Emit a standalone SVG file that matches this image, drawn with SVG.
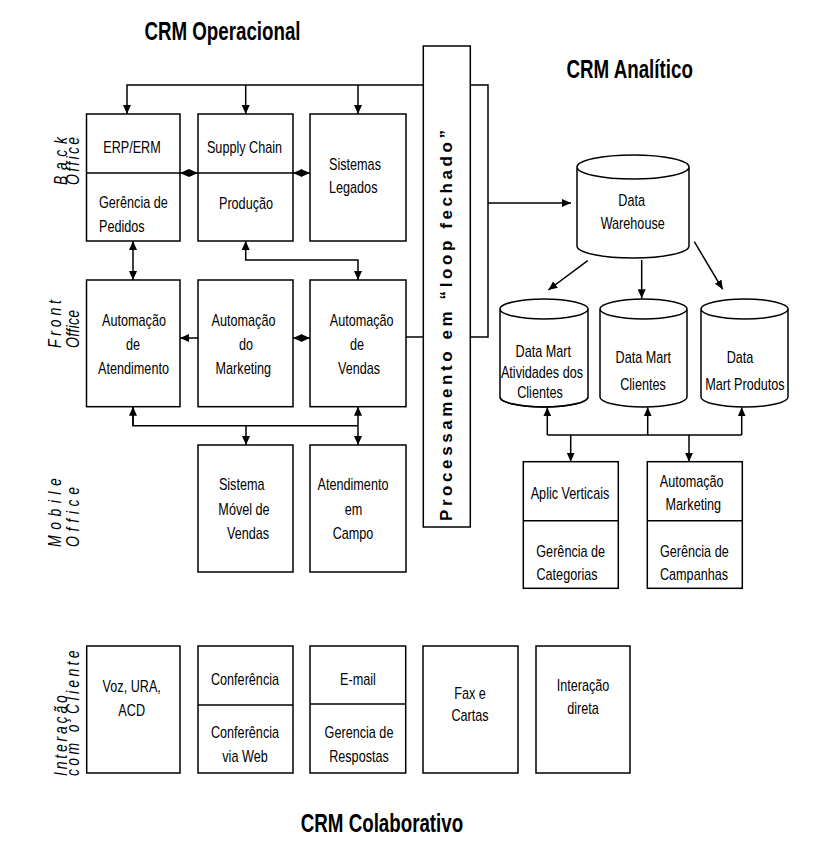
<svg xmlns="http://www.w3.org/2000/svg" width="818" height="849" viewBox="0 0 818 849">
<style>
.bg{fill:#fff}
.box{fill:#fff;stroke:#000;stroke-width:1.5}
.ln{fill:none;stroke:#000;stroke-width:1.5}
.t{font-family:"Liberation Sans",Arial,sans-serif;font-size:15.8px;fill:#000;text-anchor:middle;transform-box:fill-box;transform-origin:center;transform:scaleX(0.8)}
.tl{text-anchor:start;transform-origin:left center}
.title{font-family:"Liberation Sans",Arial,sans-serif;font-size:25px;font-weight:bold;fill:#000;text-anchor:middle;transform-box:fill-box;transform-origin:center;transform:scaleX(0.75)}
.side{font-family:"Liberation Sans",Arial,sans-serif;font-size:17.5px;font-style:italic;fill:#000}
.bar{font-family:"Liberation Sans",Arial,sans-serif;font-size:17px;font-weight:bold;fill:#000}
</style>
<defs>
<marker id="ah" markerUnits="userSpaceOnUse" markerWidth="9" markerHeight="8" refX="9" refY="4" orient="auto-start-reverse">
<path d="M0,0 L9,4 L0,8 z" fill="#000"/>
</marker>
</defs>
<rect class="bg" x="0" y="0" width="818" height="849"/>

<g id="titles">
<text class="title" x="222.5" y="40">CRM Operacional</text>
<text class="title" x="629.7" y="78">CRM Analítico</text>
<text class="title" x="382" y="832">CRM Colaborativo</text>
</g>

<g id="side-labels">
<text class="side" transform="translate(67,185) rotate(-90) scale(0.8,1)" textLength="60" lengthAdjust="spacing">Back</text>
<text class="side" transform="translate(79,185) rotate(-90) scale(0.8,1)" textLength="60" lengthAdjust="spacing">Office</text>
<text class="side" transform="translate(61,348) rotate(-90) scale(0.8,1)" textLength="60" lengthAdjust="spacing">Front</text>
<text class="side" transform="translate(79,348) rotate(-90) scale(0.8,1)" textLength="47.5" lengthAdjust="spacing">Office</text>
<text class="side" transform="translate(61,547) rotate(-90) scale(0.8,1)" textLength="86" lengthAdjust="spacing">Mobile</text>
<text class="side" transform="translate(79,547) rotate(-90) scale(0.8,1)" textLength="75" lengthAdjust="spacing">Office</text>
<text class="side" transform="translate(67,776) rotate(-90) scale(0.8,1)" textLength="101" lengthAdjust="spacing">Interação</text>
<text class="side" transform="translate(79,776) rotate(-90) scale(0.8,1)" textLength="157" lengthAdjust="spacing">com o Cliente</text>
</g>

<g id="connectors">
<polyline class="ln" points="423,85 127,85 127,114" marker-end="url(#ah)"/>
<line class="ln" x1="245.7" y1="85" x2="245.7" y2="114" marker-end="url(#ah)"/>
<line class="ln" x1="358" y1="85" x2="358" y2="114" marker-end="url(#ah)"/>
<polyline class="ln" points="470.5,85 488,85 488,337 470.5,337"/>
<line class="ln" x1="488" y1="203" x2="571" y2="203" marker-end="url(#ah)"/>
<line class="ln" x1="180" y1="173" x2="198" y2="173" marker-start="url(#ah)" marker-end="url(#ah)"/>
<line class="ln" x1="293" y1="173" x2="310" y2="173" marker-start="url(#ah)" marker-end="url(#ah)"/>
<line class="ln" x1="133" y1="241" x2="133" y2="280" marker-start="url(#ah)" marker-end="url(#ah)"/>
<polyline class="ln" points="245.7,241 245.7,260 358,260 358,280" marker-start="url(#ah)" marker-end="url(#ah)"/>
<line class="ln" x1="198" y1="338" x2="180" y2="338" marker-end="url(#ah)"/>
<line class="ln" x1="293" y1="338" x2="310" y2="338" marker-start="url(#ah)" marker-end="url(#ah)"/>
<line class="ln" x1="406" y1="337" x2="423" y2="337"/>
<polyline class="ln" points="133,406.7 133,425.7 358,425.7"/>
<line class="ln" x1="133" y1="425.7" x2="133" y2="406.7" marker-end="url(#ah)"/>
<line class="ln" x1="246" y1="425.7" x2="246" y2="445" marker-end="url(#ah)"/>
<line class="ln" x1="358" y1="425.7" x2="358" y2="406.7" marker-end="url(#ah)"/>
<line class="ln" x1="358" y1="425.7" x2="358" y2="445" marker-end="url(#ah)"/>
<line class="ln" x1="587.7" y1="260.7" x2="548.3" y2="290" marker-end="url(#ah)"/>
<line class="ln" x1="641.7" y1="260" x2="641.7" y2="298.3" marker-end="url(#ah)"/>
<line class="ln" x1="694.3" y1="241.7" x2="722.7" y2="289.3" marker-end="url(#ah)"/>
<line class="ln" x1="547.3" y1="435" x2="741.7" y2="435"/>
<line class="ln" x1="547.3" y1="435" x2="547.3" y2="407.3" marker-end="url(#ah)"/>
<line class="ln" x1="647.7" y1="435" x2="647.7" y2="407.3" marker-end="url(#ah)"/>
<line class="ln" x1="741.7" y1="435" x2="741.7" y2="407.3" marker-end="url(#ah)"/>
<line class="ln" x1="570.7" y1="435" x2="570.7" y2="461.7" marker-end="url(#ah)"/>
<line class="ln" x1="689" y1="435" x2="689" y2="461.7" marker-end="url(#ah)"/>
</g>

<g id="loop-bar">
<rect class="box" x="423.3" y="46" width="47" height="481"/>
<text class="bar" transform="translate(452,521) rotate(-90)" textLength="391" lengthAdjust="spacing">Processamento em “loop fechado”</text>
</g>

<g id="erp">
<rect class="box" x="86.5" y="114" width="93.5" height="127"/>
<line class="ln" x1="86.5" y1="173" x2="180" y2="173"/>
<text class="t" x="132" y="152.7">ERP/ERM</text>
<text class="t tl" x="99" y="208">Gerência de</text>
<text class="t tl" x="99" y="232">Pedidos</text>
</g>
<g id="supply-chain">
<rect class="box" x="198" y="114" width="95" height="127"/>
<line class="ln" x1="198" y1="173" x2="293" y2="173"/>
<text class="t" x="244.5" y="152.7">Supply Chain</text>
<text class="t" x="246" y="209">Produção</text>
</g>
<g id="sistemas-legados">
<rect class="box" x="310" y="114" width="96" height="127"/>
<text class="t tl" x="329" y="170">Sistemas</text>
<text class="t tl" x="329" y="193">Legados</text>
</g>

<g id="automacao-atendimento">
<rect class="box" x="86.5" y="280" width="93.5" height="126.7"/>
<text class="t" x="134" y="325.7">Automação</text>
<text class="t" x="133" y="350">de</text>
<text class="t" x="133.5" y="374">Atendimento</text>
</g>
<g id="automacao-marketing">
<rect class="box" x="198" y="280" width="95" height="126.7"/>
<text class="t" x="243.5" y="325.7">Automação</text>
<text class="t" x="246" y="350">do</text>
<text class="t" x="243.3" y="374">Marketing</text>
</g>
<g id="automacao-vendas">
<rect class="box" x="310" y="280" width="96" height="126.7"/>
<text class="t" x="361.7" y="325.7">Automação</text>
<text class="t" x="357" y="350">de</text>
<text class="t" x="359" y="374">Vendas</text>
</g>

<g id="sistema-movel">
<rect class="box" x="198" y="445" width="95" height="127"/>
<text class="t" x="241.7" y="490">Sistema</text>
<text class="t" x="244" y="515">Móvel de</text>
<text class="t" x="248" y="539.3">Vendas</text>
</g>
<g id="atendimento-campo">
<rect class="box" x="310" y="445" width="96" height="127"/>
<text class="t" x="353" y="490">Atendimento</text>
<text class="t" x="353.5" y="515">em</text>
<text class="t" x="353" y="539.3">Campo</text>
</g>

<g id="data-warehouse">
<path class="box" d="M577,167 L577,246 A56,12 0 0 0 689,246 L689,167 A56,12 0 0 0 577,167 A56,12 0 0 0 689,167"/>
<text class="t" x="631.7" y="206">Data</text>
<text class="t" x="632.7" y="229.3">Warehouse</text>
</g>
<g id="dm-atividades">
<path class="box" d="M500,309 L500,397 A44,10 0 0 0 588,397 L588,309 A44,10 0 0 0 500,309 A44,10 0 0 0 588,309"/>
<text class="t" x="543.3" y="356.7">Data Mart</text>
<text class="t" x="542" y="378.3">Atividades dos</text>
<text class="t" x="540" y="398.3">Clientes</text>
<path class="ln" d="M500,397 A44,10 0 0 0 588,397"/>
</g>
<g id="dm-clientes">
<path class="box" d="M600,309 L600,397 A43.5,10 0 0 0 687,397 L687,309 A43.5,10 0 0 0 600,309 A43.5,10 0 0 0 687,309"/>
<text class="t" x="643.3" y="363.3">Data Mart</text>
<text class="t" x="643" y="390">Clientes</text>
</g>
<g id="dm-produtos">
<path class="box" d="M701,309 L701,397 A43.5,10 0 0 0 788,397 L788,309 A43.5,10 0 0 0 701,309 A43.5,10 0 0 0 788,309"/>
<text class="t" x="740" y="363.3">Data</text>
<text class="t" x="745" y="390">Mart Produtos</text>
</g>

<g id="aplic-verticais">
<rect class="box" x="523.3" y="461.7" width="95" height="126.6"/>
<line class="ln" x1="523.3" y1="520.7" x2="618.3" y2="520.7"/>
<text class="t" x="570" y="499.3">Aplic Verticais</text>
<text class="t" x="570.7" y="556.7">Gerência de</text>
<text class="t" x="567" y="580">Categorias</text>
</g>
<g id="automacao-mkt-campanhas">
<rect class="box" x="647.3" y="461.7" width="95" height="126.6"/>
<line class="ln" x1="647.3" y1="520.7" x2="742.3" y2="520.7"/>
<text class="t" x="691.7" y="487.3">Automação</text>
<text class="t" x="693.3" y="510">Marketing</text>
<text class="t" x="694.3" y="556.7">Gerência de</text>
<text class="t" x="694" y="580">Campanhas</text>
</g>

<g id="voz-ura-acd">
<rect class="box" x="86.7" y="646" width="93.3" height="127"/>
<text class="t" x="131.7" y="692">Voz, URA,</text>
<text class="t" x="131.7" y="716">ACD</text>
</g>
<g id="conferencia">
<rect class="box" x="198" y="646" width="95" height="127"/>
<line class="ln" x1="198" y1="705" x2="293" y2="705"/>
<text class="t" x="245" y="685">Conferência</text>
<text class="t" x="245" y="738">Conferência</text>
<text class="t" x="245" y="762">via Web</text>
</g>
<g id="email">
<rect class="box" x="310" y="646" width="95.7" height="127"/>
<line class="ln" x1="310" y1="704" x2="405.7" y2="704"/>
<text class="t" x="358" y="685">E-mail</text>
<text class="t" x="359" y="738">Gerencia de</text>
<text class="t" x="359" y="762">Respostas</text>
</g>
<g id="fax-cartas">
<rect class="box" x="423" y="646" width="95" height="127"/>
<text class="t" x="470" y="699">Fax e</text>
<text class="t" x="470" y="721">Cartas</text>
</g>
<g id="interacao-direta">
<rect class="box" x="536" y="646" width="94" height="127"/>
<text class="t" x="583" y="691">Interação</text>
<text class="t" x="583" y="714">direta</text>
</g>
</svg>
